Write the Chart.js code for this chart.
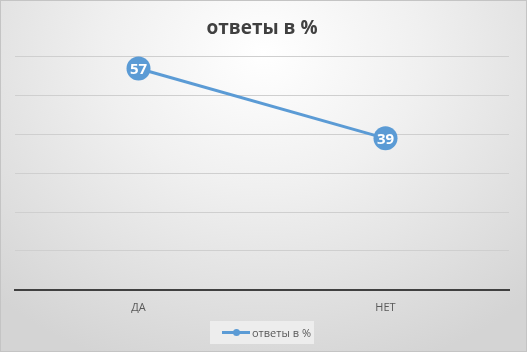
<!DOCTYPE html>
<html><head><meta charset="utf-8">
<script src="https://cdn.jsdelivr.net/npm/chart.js@4.4.1/dist/chart.umd.min.js"></script>
<style>
html,body{margin:0;padding:0;width:527px;height:352px;overflow:hidden;}
#wrap{position:relative;width:525px;height:350px;border:1px solid #c4c4c4;
background:radial-gradient(ellipse 75% 95% at 50% 15%, #ffffff 0%, #f0f0f0 40%, #d4d4d4 100%);}
#legend{position:absolute;left:209px;top:320px;width:104px;height:23px;background:rgba(240,240,240,0.85);
font-family:"Open Sans",sans-serif;font-size:11px;color:#595959;display:flex;align-items:center;}
#legend .ln{position:relative;width:28px;height:3px;background:#5b9bd5;margin-left:12px;margin-right:2px;}
#legend .ln i{position:absolute;left:11px;top:-2px;width:7px;height:7px;border-radius:50%;background:#5b9bd5;}
</style></head>
<body><div id="wrap"><canvas id="c" width="525" height="350"></canvas>
<div id="legend"><span class="ln"><i></i></span><span id="legtxt"></span></div></div>
<script>
const categories = ["ДА", "НЕТ"];
const seriesName = "ответы в %";
const values = [57, 39];
const yTicks = [0, 10, 20, 30, 40, 50, 60];

document.getElementById('legtxt').textContent = seriesName;

const labelPlugin = {
  id: 'pointLabels',
  afterDatasetsDraw(chart) {
    const ctx = chart.ctx;
    const meta = chart.getDatasetMeta(0);
    ctx.save();
    ctx.font = 'bold 15px "Open Sans", sans-serif';
    ctx.fillStyle = '#ffffff';
    ctx.textAlign = 'center';
    ctx.textBaseline = 'middle';
    meta.data.forEach((pt, i) => {
      ctx.fillText(String(chart.data.datasets[0].data[i]), pt.x, pt.y + 1);
    });
    ctx.restore();
  }
};

new Chart(document.getElementById('c'), {
  type: 'line',
  data: {
    labels: categories,
    datasets: [{
      label: seriesName,
      data: values,
      borderColor: '#5b9bd5',
      backgroundColor: '#5b9bd5',
      borderWidth: 3,
      pointRadius: 12,
      pointHoverRadius: 12,
      pointBorderWidth: 0,
      pointBackgroundColor: '#5b9bd5',
      clip: false
    }]
  },
  options: {
    responsive: false,
    animation: false,
    events: [],
    layout: { padding: { left: 14, right: 17, top: 0, bottom: 26 } },
    plugins: {
      legend: { display: false },
      tooltip: { enabled: false },
      title: {
        display: true,
        text: seriesName,
        color: '#404040',
        font: { family: '"Open Sans", sans-serif', size: 19, weight: 'bold' },
        padding: { top: 16, bottom: 17 }
      }
    },
    scales: {
      x: {
        offset: true,
        grid: { display: false, drawTicks: false },
        border: { display: true, color: '#404040', width: 2 },
        ticks: { color: '#595959', padding: 11, font: { family: '"Open Sans", sans-serif', size: 11 } }
      },
      y: {
        min: yTicks[0],
        max: yTicks[yTicks.length - 1],
        afterBuildTicks(axis) { axis.ticks = yTicks.map(v => ({ value: v })); },
        ticks: { display: false },
        border: { display: false },
        grid: { color: '#cfcfcf', lineWidth: 1, drawTicks: false }
      }
    }
  },
  plugins: [labelPlugin]
});
</script></body></html>
